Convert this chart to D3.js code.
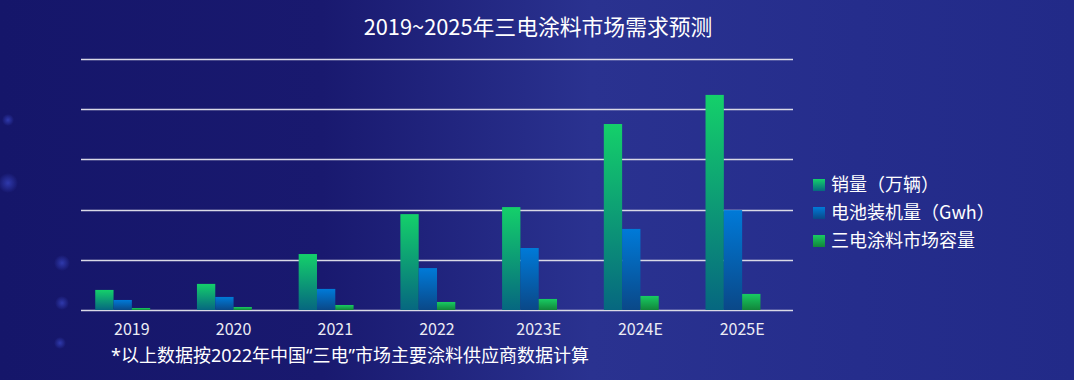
<!DOCTYPE html>
<html><head><meta charset="utf-8">
<script src="https://cdn.jsdelivr.net/npm/d3@7/dist/d3.min.js"></script>
<style>html,body{margin:0;padding:0;background:#16186e;}svg{display:block;}</style>
</head><body>
<svg id="chart" width="1074" height="380"></svg>
<script>
const categories = ["2019","2020","2021","2022","2023E","2024E","2025E"];
const seriesNames = ["销量（万辆）","电池装机量（Gwh）","三电涂料市场容量"];
const sales = [80,104,223,382,410,741,857];
const battery = [40,52,84,167,247,323,398];
const coating = [8,12,20,32,44,56,64];
const yTicks = [0,200,400,600,800,1000];
const title = "2019~2025年三电涂料市场需求预测";
const footnote = "*以上数据按2022年中国“三电”市场主要涂料供应商数据计算";

(function(){
const svg = d3.select("#chart");
const W = 1074, H = 380;
const defs = svg.append("defs");
const font = "'Noto Sans CJK SC','Noto Sans',sans-serif";
const fontLatin = "'Noto Sans','Noto Sans CJK SC',sans-serif";

// background
const bg = defs.append("linearGradient").attr("id","bg").attr("x1","0").attr("x2","1").attr("y1","0").attr("y2","0");
bg.append("stop").attr("offset","0").attr("stop-color","#15166a");
bg.append("stop").attr("offset","0.3").attr("stop-color","#19196f");
bg.append("stop").attr("offset","0.55").attr("stop-color","#2a3290");
bg.append("stop").attr("offset","0.8").attr("stop-color","#252d8c");
bg.append("stop").attr("offset","1").attr("stop-color","#222a88");
svg.append("rect").attr("width",W).attr("height",H).attr("fill","url(#bg)");
const glow = defs.append("radialGradient").attr("id","glow");
glow.append("stop").attr("offset","0").attr("stop-color","#3a48c8").attr("stop-opacity",0.7);
glow.append("stop").attr("offset","1").attr("stop-color","#3a48c8").attr("stop-opacity",0);
[[8,183,10],[62,263,8],[62,303,7],[60,343,6],[8,120,6]].forEach(d=>{
  svg.append("circle").attr("cx",d[0]).attr("cy",d[1]).attr("r",d[2]).attr("fill","url(#glow)");
});

function grad(id, c0, c1){
  const g = defs.append("linearGradient").attr("id",id).attr("x1","0").attr("x2","0").attr("y1","0").attr("y2","1");
  g.append("stop").attr("offset","0").attr("stop-color",c0);
  g.append("stop").attr("offset","1").attr("stop-color",c1);
}
grad("g0","#14d06a","#066780");
grad("g1","#007ad8","#0a4888");
grad("g2","#18cc62","#12853a");
const fills = ["url(#g0)","url(#g1)","url(#g2)"];

const pl = 81, pr = 793, pt = 59, pb = 310;
const x = d3.scaleBand().domain(categories).range([pl,pr]).padding(0);
const y = d3.scaleLinear().domain([0,1000]).range([pb,pt]);
const groupW = x.bandwidth()*0.72;
const x1 = d3.scaleBand().domain([0,1,2,3]).range([0,groupW]).padding(0);

// gridlines
svg.append("g").selectAll("line").data(yTicks).join("line")
  .attr("x1",pl).attr("x2",pr)
  .attr("y1",d=>Math.round(y(d))+0.5).attr("y2",d=>Math.round(y(d))+0.5)
  .attr("stroke","#d9d9e6").attr("stroke-width",1.5);

// bars
const seriesData = [sales,battery,coating];
seriesData.forEach((vals,si)=>{
  svg.append("g").selectAll("rect").data(vals).join("rect")
    .attr("x",(d,i)=>x(categories[i]) + (x.bandwidth()-groupW)/2 + x1(si))
    .attr("width",x1.bandwidth())
    .attr("y",d=>y(d))
    .attr("height",d=>pb - y(d))
    .attr("fill",fills[si]);
});

// x axis labels
const xAxis = d3.axisBottom(x).tickSize(0).tickPadding(14);
const xg = svg.append("g").attr("transform",`translate(0,${pb})`).call(xAxis);
xg.select(".domain").remove();
xg.selectAll("text").attr("fill","#ececf4").attr("font-size",16).attr("font-family",font);

// title
svg.append("text").attr("x",538).attr("y",35).attr("text-anchor","middle")
  .attr("fill","#ffffff").attr("font-size",21.8).attr("font-family",font).text(title);

// footnote
svg.append("text").attr("x",111).attr("y",362)
  .attr("fill","#ffffff").attr("font-size",18).attr("font-family",fontLatin).text(footnote);

// legend
const lg = svg.append("g");
seriesNames.forEach((n,i)=>{
  const cy = 185 + i*28;
  lg.append("rect").attr("x",813).attr("y",cy-6).attr("width",12).attr("height",12).attr("fill",fills[i]);
  lg.append("text").attr("x",831).attr("y",cy).attr("dy","0.36em")
    .attr("fill","#ffffff").attr("font-size",18).attr("font-family",font).text(n);
});
})();
</script>
</body></html>
